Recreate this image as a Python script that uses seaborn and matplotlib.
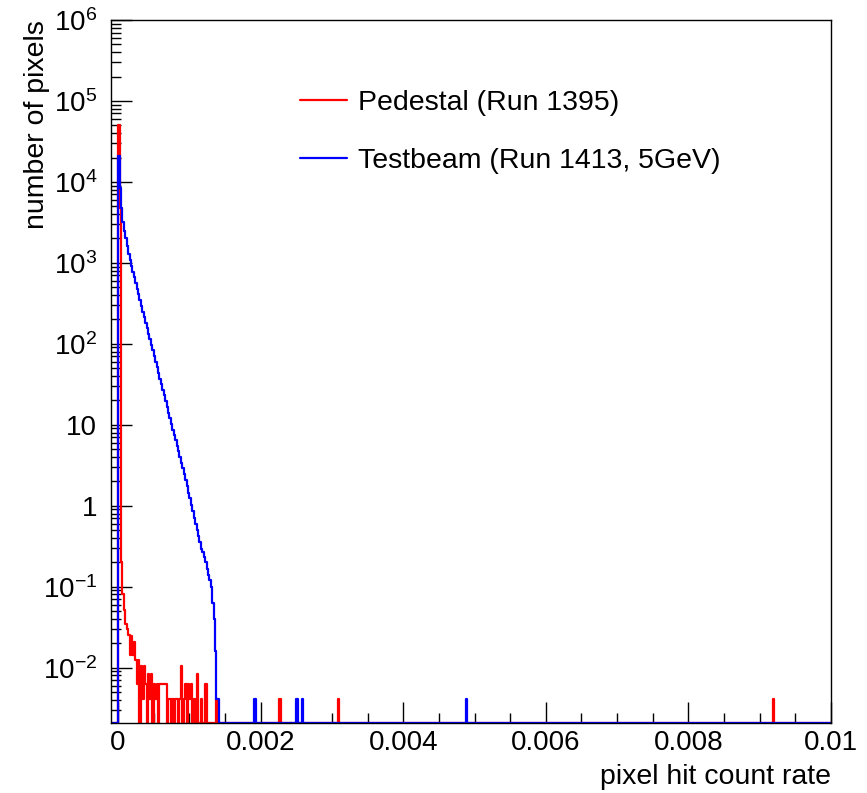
import numpy as np
import pandas as pd
import seaborn as sns
import matplotlib
matplotlib.use("Agg")
import matplotlib.pyplot as plt
from matplotlib.ticker import MultipleLocator, LogLocator, FixedLocator, FixedFormatter, NullFormatter
from matplotlib.lines import Line2D

## DATA
# binning of the pixel hit count rate
x_min, x_max, n_bins = -0.0001, 0.01, 505
y_min, y_max = 0.00207, 1e6
unit = 0.00207  # weight of one pixel

# Testbeam (Run 1413) - bins from rate 0 on
blue_main = [21000, 8300, 4800, 3200, 2500, 2000, 1600, 1300, 1070, 910,
             780, 660, 560, 480, 410, 350, 295, 250, 215, 180,
             155, 132, 115, 98, 83, 71, 60, 51, 44, 37,
             32, 27, 23, 19.5, 16.6, 14.1, 12.0, 10.2, 8.7, 7.4,
             6.5, 5.5, 4.7, 4.0, 3.4, 2.9, 2.45, 2.1, 1.74, 1.45,
             1.23, 1.02, 0.85, 0.71, 0.59, 0.50, 0.42, 0.355, 0.295, 0.27,
             0.23, 0.20, 0.166, 0.141, 0.12, 0.10, 0.063, 0.040, 0.016, 0.0041,
             0.0041]
blue_outlier_rate = [0.00191, 0.00193, 0.00251, 0.00259, 0.00489]
blue_outlier_count = [2, 2, 2, 2, 2]

# Pedestal (Run 1395)
red_main = [50000, 4800, 0.2, 0.08, 0.052, 0.035, 0.03, 0.025]
red_tail_count = [7, 12, 7, 10, 6, 3, 6, 1, 5, 2,
                  5, 3, 1, 4, 2, 4, 1, 3, 2, 3,
                  1, 3, 3, 3, 3, 3, 1, 2, 2, 1,
                  2, 1, 2, 2, 1, 2, 5, 1, 2, 3,
                  1, 3, 2, 3, 1, 2, 1, 4, 1, 1,
                  2, 1, 1, 3, 1, 1, 1, 1, 1, 1,
                  1, 2]
red_outlier_rate = [0.00227, 0.00310, 0.00920]
red_outlier_count = [2, 2, 2]

labels = ["Pedestal (Run 1395)", "Testbeam (Run 1413, 5GeV)"]
colors = ["#ff0000", "#0000ff"]

## BUILD HISTOGRAMS
edges = np.linspace(x_min, x_max, n_bins + 1)
centers = 0.5 * (edges[1:] + edges[:-1])
i0 = int(np.argmin(np.abs(edges))) # bin that starts at 0


def fill(main, tail_count, out_rate, out_count):
    h = np.zeros(n_bins)
    h[i0:i0 + len(main)] = main
    start = i0 + len(main)
    h[start:start + len(tail_count)] = np.array(tail_count) * unit
    for r, c in zip(out_rate, out_count):
        k = np.searchsorted(edges, r) - 1
        h[k] += c * unit
    return h


h_red = fill(red_main, red_tail_count, red_outlier_rate, red_outlier_count)
h_blue = fill(blue_main, [], blue_outlier_rate, blue_outlier_count)

## PLOT
sns.set_style("ticks")
plt.rcParams["font.family"] = ["Liberation Sans", "DejaVu Sans"]
plt.rcParams["mathtext.fontset"] = "custom"
plt.rcParams["mathtext.rm"] = "Liberation Sans"
plt.rcParams["mathtext.it"] = "Liberation Sans:italic"
plt.rcParams["text.color"] = "black"
plt.rcParams["axes.labelcolor"] = "black"

fig = plt.figure(figsize=(8.67, 7.93), dpi=100)
ax = fig.add_axes([0.128, 0.0883, 0.8305, 0.8865])

# ROOT draws empty bins on the bottom of the frame
for h, col in zip([h_red, h_blue], colors):
    df = pd.DataFrame({"rate": centers, "w": np.clip(h, y_min, None)})
    sns.histplot(data=df, x="rate", weights="w", bins=n_bins,
                 binrange=(x_min, x_max), element="step", fill=False,
                 color=col, linewidth=1.6, ax=ax)

ax.set_yscale("log")
ax.set_xlim(x_min, x_max)
ax.set_ylim(y_min, y_max)

# x axis
xt = [0, 0.002, 0.004, 0.006, 0.008, 0.01]
ax.xaxis.set_major_locator(FixedLocator(xt))
ax.xaxis.set_major_formatter(FixedFormatter(["0", "0.002", "0.004", "0.006", "0.008", "0.01"]))
ax.xaxis.set_minor_locator(MultipleLocator(0.0005))

# y axis
yt = [1e-2, 1e-1, 1, 10, 1e2, 1e3, 1e4, 1e5, 1e6]
ylab = [r"$10^{-2}$", r"$10^{-1}$", "1", "10", r"$10^{2}$", r"$10^{3}$",
        r"$10^{4}$", r"$10^{5}$", r"$10^{6}$"]
ax.yaxis.set_major_locator(FixedLocator(yt))
ax.yaxis.set_major_formatter(FixedFormatter(ylab))
ax.yaxis.set_minor_locator(LogLocator(base=10, subs=np.arange(2, 10), numticks=30))
ax.yaxis.set_minor_formatter(NullFormatter())

ax.tick_params(axis="both", which="both", direction="in", color="black",
               width=1, labelsize=20, labelcolor="black",
               bottom=True, left=True, top=False, right=False)
ax.tick_params(axis="both", which="major", length=15)
ax.tick_params(axis="both", which="minor", length=7.5)
ax.tick_params(axis="x", which="major", pad=5)
ax.tick_params(axis="y", which="major", pad=10)

for s in ax.spines.values():
    s.set_visible(True)
    s.set_color("black")
    s.set_linewidth(1)

ax.set_xlabel("pixel hit count rate", fontsize=20.5, loc="right", color="black")
ax.set_ylabel("number of pixels", fontsize=20.5, loc="top", color="black")
ax.xaxis.set_label_coords(1.0, -0.058)
ax.yaxis.set_label_coords(-0.085, 1.0)

handles = [Line2D([], [], color=c, lw=1.6) for c in colors]
leg = ax.legend(handles, labels, loc="upper left", bbox_to_anchor=(0.2625, 0.9),
                frameon=False, fontsize=20.5, handlelength=1.65, handletextpad=0.4,
                labelspacing=1.1, borderpad=0, borderaxespad=0)
for t in leg.get_texts():
    t.set_color("black")

fig.savefig("out.png", dpi=100)
